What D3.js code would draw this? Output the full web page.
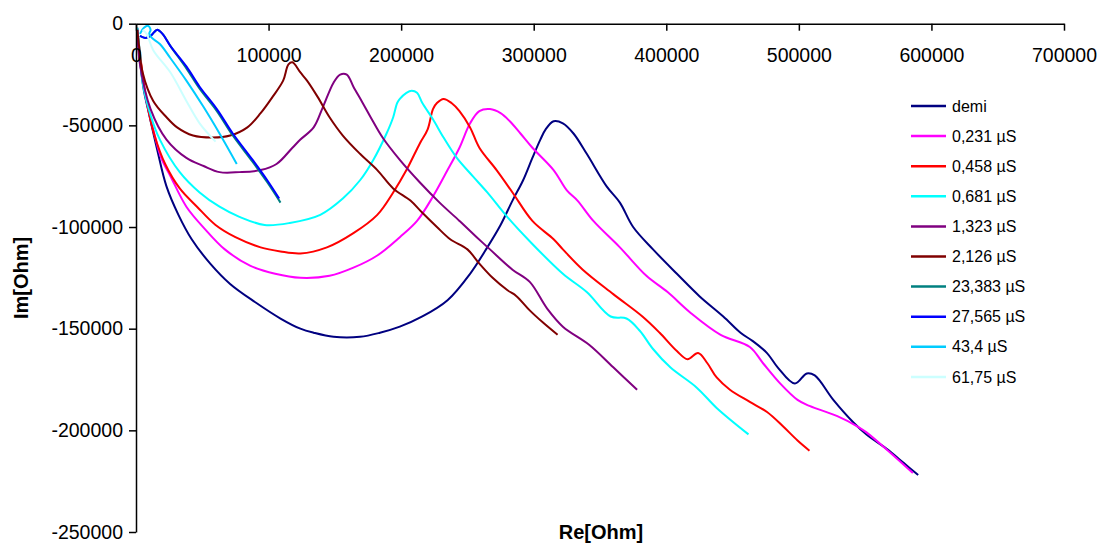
<!DOCTYPE html>
<html>
<head>
<meta charset="utf-8">
<script src="https://cdn.jsdelivr.net/npm/d3@7"></script>
<style>
  html, body { margin: 0; padding: 0; background: #fff; }
  svg { display: block; font-family: "Liberation Sans", Arial, sans-serif; }
</style>
</head>
<body>
<svg id="chart" width="1098" height="543"></svg>
<script>
// Nyquist plots: real part (Re) vs imaginary part (Im) of impedance, in Ohm
const xTicks = [0, 100000, 200000, 300000, 400000, 500000, 600000, 700000];
const yTicks = [0, -50000, -100000, -150000, -200000, -250000];

const seriesNames = ["demi", "0,231 µS", "0,458 µS", "0,681 µS", "1,323 µS", "2,126 µS",
                     "23,383 µS", "27,565 µS", "43,4 µS", "61,75 µS"];
const seriesColors = ["#000080", "#FF00FF", "#FF0000", "#00FFFF", "#800080", "#800000",
                      "#008080", "#0000FF", "#00CCFF", "#CCFFFF"];

const demiRe = [1000,3000,6000,9000,16000,23000,32000,42000,56000,71000,90000,109000,124000,134000,149000,169000,184000,199000,216000,235000,252000,265000,275000,284000,292000,299000,305000,309000,315000,322000,330000,340000,355000,365000,375000,390000,408000,425000,443000,456000,465000,476000,484000,497000,506000,512000,526000,541000,551000,566000,579000,590000];
const demiIm = [-2000,-18000,-33000,-42000,-62000,-80000,-94000,-106000,-118000,-128000,-137000,-145000,-150000,-152000,-154000,-154000,-152000,-149000,-144000,-136000,-123000,-110000,-99000,-87000,-77000,-66000,-57000,-52000,-48000,-49000,-54000,-64000,-80000,-88000,-100000,-111000,-123000,-134000,-144000,-152000,-156000,-162000,-169000,-177000,-172000,-173000,-185000,-196000,-202000,-209000,-216000,-222000];

const s0231Re = [1000,4000,8000,13000,19000,26000,38000,52000,67000,86000,105000,124000,146000,164000,182000,199000,212000,224000,235000,244000,252000,259000,267000,275000,282000,290000,299000,315000,325000,333000,345000,365000,385000,401000,418000,441000,463000,473000,486000,499000,508000,529000,544000,551000,569000,586000];
const s0231Im = [-3000,-23000,-38000,-52000,-66000,-75000,-90000,-101000,-111000,-119000,-123000,-125000,-124000,-120000,-114000,-105000,-97000,-85000,-72000,-61000,-49000,-43000,-42000,-44000,-48000,-54000,-61000,-72000,-82000,-87000,-97000,-110000,-124000,-132000,-142000,-153000,-159000,-167000,-177000,-185000,-188000,-193000,-198000,-201000,-211000,-221000];

const s0458Re = [1000,4000,8000,14000,22000,33000,46000,60000,75000,94000,109000,124000,144000,164000,182000,194000,204000,214000,220000,224000,227000,232000,238000,244000,252000,259000,272000,284000,299000,315000,322000,337000,360000,382000,395000,408000,416000,424000,431000,438000,448000,463000,476000,488000,499000,508000];
const s0458Im = [-3000,-20000,-38000,-55000,-69000,-81000,-90000,-99000,-105000,-110000,-112000,-113000,-110000,-103000,-94000,-83000,-72000,-59000,-52000,-42000,-39000,-37000,-39000,-43000,-51000,-61000,-72000,-83000,-97000,-106000,-111000,-121000,-133000,-144000,-152000,-161000,-165000,-162000,-167000,-174000,-180000,-186000,-191000,-198000,-205000,-210000];

const s0681Re = [1000,3000,5000,11000,18000,33000,48000,63000,78000,97000,116000,139000,156000,169000,179000,189000,194000,197000,199000,204000,208000,212000,216000,224000,232000,242000,254000,265000,280000,297000,322000,340000,358000,370000,380000,390000,403000,423000,438000,462000];
const s0681Im = [-2000,-15000,-29000,-45000,-57000,-73000,-83000,-90000,-95000,-99000,-98000,-94000,-86000,-77000,-67000,-54000,-46000,-39000,-37000,-34000,-33000,-34000,-39000,-47000,-56000,-66000,-75000,-83000,-95000,-107000,-123000,-132000,-144000,-145000,-151000,-160000,-169000,-179000,-189000,-202000];

const s1323Re = [1000,3000,11000,23000,38000,51000,63000,78000,94000,106000,118000,124000,134000,141000,149000,154000,159000,164000,171000,177000,186000,199000,214000,229000,244000,257000,267000,284000,297000,310000,322000,342000,360000,378000];
const s1323Im = [-3000,-20000,-42000,-57000,-66000,-70000,-73000,-73000,-72000,-69000,-61000,-57000,-51000,-41000,-29000,-25000,-25000,-31000,-39000,-46000,-56000,-67000,-78000,-88000,-97000,-105000,-111000,-121000,-127000,-140000,-149000,-158000,-169000,-180000];

const s2126Re = [1000,2000,5000,13000,23000,31000,43000,58000,71000,84000,94000,103000,111000,115000,118000,124000,129000,137000,146000,156000,169000,182000,194000,207000,216000,227000,237000,250000,259000,269000,280000,287000,297000,307000,318000];
const s2126Im = [-3000,-9000,-24000,-38000,-46000,-51000,-55000,-56000,-55000,-51000,-44000,-36000,-28000,-20000,-19000,-24000,-28000,-36000,-46000,-55000,-64000,-72000,-81000,-87000,-93000,-100000,-106000,-111000,-118000,-125000,-131000,-134000,-141000,-147000,-153000];

const s23383Re = [3000,7000,11000,14000,16000,20000,26000,38000,48000,61000,73000,88000,99000,109000];
const s23383Im = [-6000,-7000,-6000,-4000,-3000,-5000,-11000,-22000,-32000,-43000,-55000,-68000,-78000,-88000];

const s27565Re = [3000,7000,11000,14000,16000,20000,26000,38000,48000,61000,73000,88000,99000,108000];
const s27565Im = [-6000,-7000,-6000,-4000,-3000,-5000,-11000,-21000,-31000,-42000,-54000,-67000,-77000,-86000];

const s434Re = [3000,6000,9000,11000,10000,12000,18000,26000,38000,51000,63000,76000];
const s434Im = [-5000,-2000,-1000,-3000,-5000,-7000,-10000,-17000,-28000,-41000,-54000,-69000];

const s6175Re = [5000,8000,13000,26000,38000,48000,60000];
const s6175Im = [-3000,-5000,-13000,-24000,-38000,-49000,-58000];

const seriesRe = [demiRe, s0231Re, s0458Re, s0681Re, s1323Re, s2126Re, s23383Re, s27565Re, s434Re, s6175Re];
const seriesIm = [demiIm, s0231Im, s0458Im, s0681Im, s1323Im, s2126Im, s23383Im, s27565Im, s434Im, s6175Im];

const series = seriesNames.map((name, i) => ({
  name,
  color: seriesColors[i],
  points: seriesRe[i].map((re, k) => ({ re, im: seriesIm[i][k] }))
}));

const svg = d3.select("#chart");
svg.append("rect").attr("width", 1098).attr("height", 543).attr("fill", "#fff");

const x = d3.scaleLinear().domain([0, 700000]).range([136, 1064]);
const y = d3.scaleLinear().domain([0, -250000]).range([23.7, 532]);

// Curves, smoothed through the measured points
const line = d3.line().x(d => x(d.re)).y(d => y(d.im)).curve(d3.curveCatmullRom.alpha(0.5));
svg.append("g").selectAll("path")
  .data(series)
  .join("path")
  .attr("d", d => line(d.points))
  .attr("fill", "none")
  .attr("stroke", d => d.color)
  .attr("stroke-width", 2)
  .attr("stroke-linejoin", "round");

// Axes: Re axis runs along Im = 0 at the top, Im axis along Re = 0
const fmt = d => String(d);
const xAxis = svg.append("g")
  .attr("transform", `translate(0,${y(0)})`)
  .call(d3.axisBottom(x).tickValues(xTicks).tickFormat(fmt).tickSize(7).tickSizeOuter(0).tickPadding(17));
const yAxis = svg.append("g")
  .attr("transform", `translate(${x(0)},0)`)
  .call(d3.axisLeft(y).tickValues(yTicks).tickFormat(fmt).tickSize(7).tickSizeOuter(0).tickPadding(6));

[xAxis, yAxis].forEach(g => {
  g.selectAll("path.domain").attr("stroke", "#000").attr("stroke-width", 1.5);
  g.selectAll(".tick line").attr("stroke", "#000").attr("stroke-width", 1.5);
  g.selectAll(".tick text").attr("fill", "#000").style("font-size", "19.5px")
    .style("font-family", "'Liberation Sans', Arial, sans-serif");
});

// Axis titles
svg.append("text")
  .attr("x", 601).attr("y", 539)
  .attr("text-anchor", "middle")
  .style("font-size", "20px").style("font-weight", "bold")
  .text("Re[Ohm]");
svg.append("text")
  .attr("transform", "translate(28,278) rotate(-90)")
  .attr("text-anchor", "middle")
  .style("font-size", "20px").style("font-weight", "bold")
  .text("Im[Ohm]");

// Legend
const legend = svg.append("g").attr("transform", "translate(911,106)");
const item = legend.selectAll("g")
  .data(series)
  .join("g")
  .attr("transform", (d, i) => `translate(0,${i * 30.1})`);
item.append("line")
  .attr("x1", 0).attr("x2", 35).attr("y1", 0).attr("y2", 0)
  .attr("stroke", d => d.color).attr("stroke-width", 2.5);
item.append("text")
  .attr("x", 41).attr("y", 0).attr("dy", "0.35em")
  .style("font-size", "16px")
  .text(d => d.name);
</script>
</body>
</html>
